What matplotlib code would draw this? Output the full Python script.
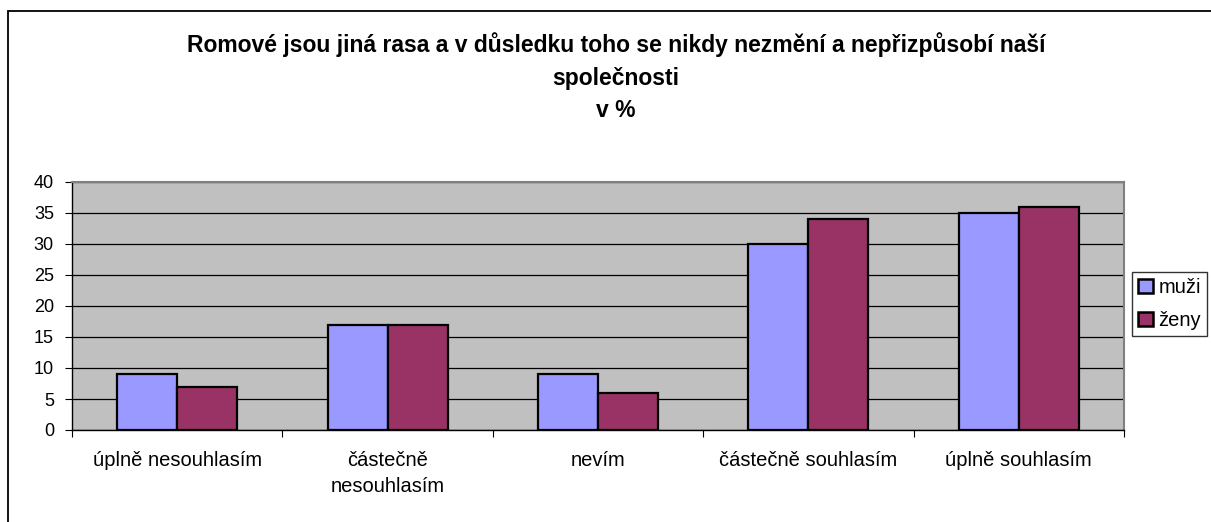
import matplotlib
matplotlib.use("Agg")
import matplotlib.pyplot as plt
import numpy as np
from matplotlib.patches import Rectangle

categories = ["úplně nesouhlasím", "částečně\nnesouhlasím", "nevím", "částečně souhlasím", "úplně souhlasím"]
muzi = [9, 17, 9, 30, 35]
zeny = [7, 17, 6, 34, 36]
series_names = ["muži", "ženy"]
title_lines = ["Romové jsou jiná rasa a v důsledku toho se nikdy nezmění a nepřizpůsobí naší",
               "společnosti", "v %"]

plt.rcParams['font.family'] = ['Liberation Sans', 'DejaVu Sans']

W, H = 1211, 522
fig = plt.figure(figsize=(W/100, H/100), dpi=100)
fig.patch.set_facecolor('white')

# outer chart frame (extends past right and bottom edges)
fig.patches.append(Rectangle((8/W, -0.2), (1400-8)/W, 1.2 - 11/H, transform=fig.transFigure,
                             fill=False, edgecolor='black', linewidth=1.3, clip_on=False))

left, right, top, bottom = 72, 1124, 182, 430
ax = fig.add_axes([left/W, 1 - bottom/H, (right-left)/W, (bottom-top)/H])
ax.set_facecolor('#C0C0C0')

x = np.arange(len(categories))
bw = 0.285
ax.bar(x - bw/2, muzi, bw, color='#9999FF', edgecolor='black', linewidth=1.6, label=series_names[0], zorder=3)
ax.bar(x + bw/2, zeny, bw, color='#993366', edgecolor='black', linewidth=1.6, label=series_names[1], zorder=3)

ax.set_xlim(-0.5, len(categories) - 0.5)
ax.set_ylim(0, 40)
ax.set_yticks(range(0, 41, 5))
ax.yaxis.grid(True, color='black', linewidth=0.9, zorder=1)
ax.set_axisbelow(True)

ax.set_xticks(np.arange(-0.5, len(categories), 1.0))
ax.set_xticklabels([])
ax.set_xticks(x, minor=True)
ax.set_xticklabels(categories, minor=True, fontsize=14.5)
for lbl in ax.get_xticklabels(minor=True):
    lbl.set_linespacing(1.5)
ax.tick_params(axis='x', which='minor', length=0, pad=15)
ax.tick_params(axis='x', which='major', length=5, direction='out', color='black')
ax.tick_params(axis='y', length=5, direction='out', labelsize=13, pad=8)

for s in ['top', 'right']:
    ax.spines[s].set_color('#808080')
    ax.spines[s].set_linewidth(1.5)
for s in ['left', 'bottom']:
    ax.spines[s].set_color('black')
    ax.spines[s].set_linewidth(1.0)

for yb, t in zip([52, 85, 117], title_lines):
    fig.text(616/W, 1 - yb/H, t, ha='center', va='baseline', fontsize=16.5, fontweight='bold')

leg = fig.legend(loc='upper left', bbox_to_anchor=(1132/W, 1 - 272/H), fontsize=14.5,
                 frameon=True, fancybox=False, edgecolor='black', handlelength=0.72, handleheight=0.72,
                 handletextpad=0.3, borderpad=0.3, labelspacing=0.7, borderaxespad=0)
leg.get_frame().set_linewidth(1.0)
for h in leg.legend_handles:
    h.set_linewidth(1.8)

fig.savefig('out.png', dpi=100, facecolor='white')
